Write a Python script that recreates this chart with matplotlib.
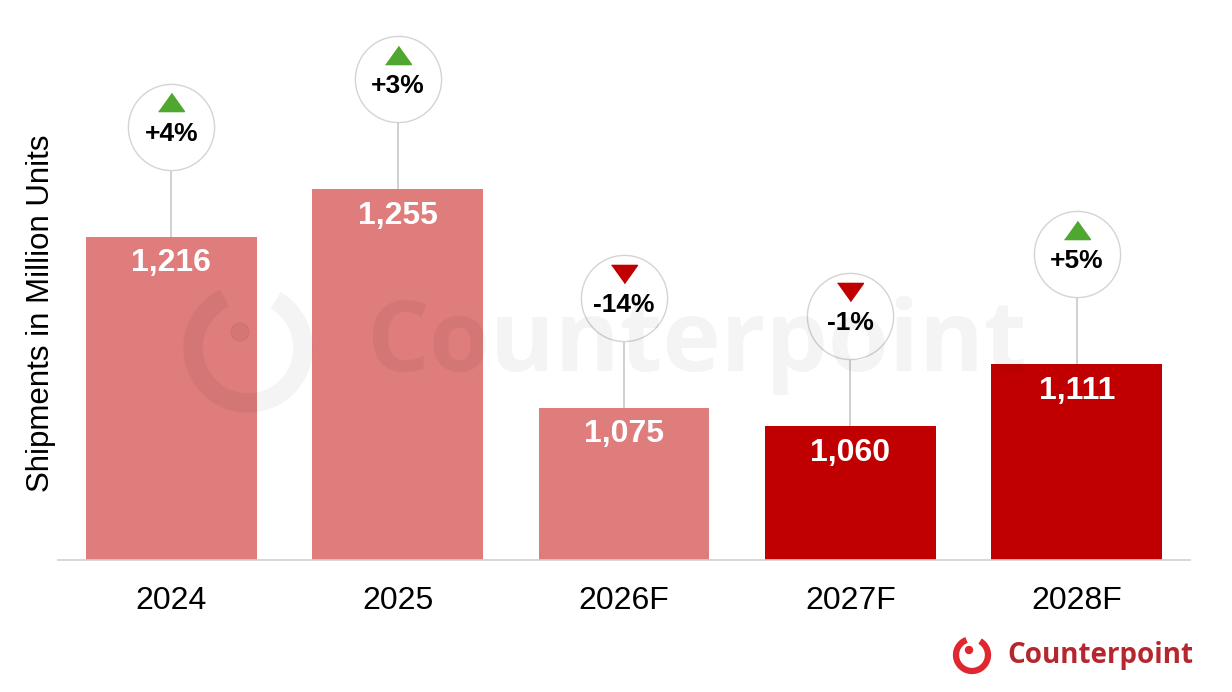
import numpy as np
import matplotlib
matplotlib.use('Agg')
import matplotlib.pyplot as plt
from matplotlib import transforms
from matplotlib.patches import Arc, Circle

plt.rcParams['font.family'] = ['Liberation Sans', 'DejaVu Sans']

# dati
years   = ['2024', '2025', '2026F', '2027F', '2028F']
values  = np.array([1216, 1255, 1075, 1060, 1111])
growth  = ['+4%', '+3%', '-14%', '-1%', '+5%']
is_up   = [True, True, False, False, True]
is_fcst = [False, False, False, True, True]   # barre rosso scuro

light_red = '#DF7C7C'
dark_red  = '#C00000'
green     = '#4EA72E'

W, H = 1232, 692
fig = plt.figure(figsize=(W/100, H/100), dpi=100)
fig.patch.set_facecolor('white')

# assi in pixel: x 58..1190, y 20..560
ax = fig.add_axes([58/W, 132/H, 1132/W, 540/H])
px_per_unit = 1.2154
ax.set_ylim(950, 950 + 540/px_per_unit)
ax.set_xlim(-0.5, 4.5)

x = np.arange(len(years))
colors = [dark_red if f else light_red for f in is_fcst]
ax.bar(x, values - 950, bottom=950, width=0.755, color=colors, zorder=2)

for s in ['top', 'right', 'left']:
    ax.spines[s].set_visible(False)
ax.spines['bottom'].set_color('#d0d0d0')
ax.spines['bottom'].set_linewidth(1.2)
ax.set_yticks([])
ax.set_xticks(x)
ax.set_xticklabels(years, fontsize=23)
ax.tick_params(axis='x', length=0, pad=19)

# etichette valori dentro le barre
for xi, v in zip(x, values):
    ax.annotate('{:,}'.format(v), (xi, v), xytext=(0, -19), textcoords='offset points',
                ha='center', va='center', fontsize=23, fontweight='bold',
                color='white', zorder=5)

# cerchi con la crescita
off = 90.5   # distanza centro cerchio - cima barra (unità dati)
cy = values + off
ax.vlines(x, values, cy, color='#c8c8c8', lw=1.2, zorder=3)
ax.scatter(x, cy, s=3850, facecolor='white', edgecolor='#d4d4d4', lw=1.0,
           zorder=4, clip_on=False)

tri_up = [(-1, -0.7), (1, -0.7), (0, 0.7)]
tri_dn = [(-1, 0.7), (1, 0.7), (0, -0.7)]
tri_tr = transforms.offset_copy(ax.transData, fig, x=0, y=17.5, units='points')
for xi, yi, g, up in zip(x, cy, growth, is_up):
    ax.plot(xi, yi, marker=tri_up if up else tri_dn, markersize=18.7,
            color=green if up else dark_red, lw=0, transform=tri_tr,
            zorder=5, clip_on=False)
    ax.annotate(g, (xi, yi), xytext=(0, -5), textcoords='offset points',
                ha='center', va='center', fontsize=19, fontweight='bold',
                color='black', zorder=5, annotation_clip=False)

fig.text(41/W, 1 - 313/H, 'Shipments in Million Units', rotation=90,
         ha='center', va='center', fontsize=22.5, color='black')

# filigrana
fig.text(697/W, 1 - 345/H, 'Counterpoint', ha='center', va='center',
         fontsize=71, fontweight='bold', family=['Open Sans', 'DejaVu Sans'],
         color='black', alpha=0.045, zorder=10)
wm = Arc((248/100, (H-348)/100), 1.1, 1.1, theta1=115, theta2=420, lw=14,
         color='black', alpha=0.045, transform=fig.dpi_scale_trans, zorder=10)
fig.patches.append(wm)
fig.patches.append(Circle((240/100, (H-332)/100), 0.09, color='black', alpha=0.045,
                          transform=fig.dpi_scale_trans, zorder=10))

# logo in basso a destra
logo = Arc((972/100, (H-655)/100), 0.32, 0.32, theta1=110, theta2=420, lw=4.5,
           color='#E0262E', transform=fig.dpi_scale_trans, zorder=10)
fig.patches.append(logo)
fig.patches.append(Circle((969/100, (H-650)/100), 0.035, color='#E0262E',
                          transform=fig.dpi_scale_trans, zorder=10))
fig.text(1007/W, 1 - 656/H, 'Counterpoint', ha='left', va='center',
         fontsize=20, fontweight='bold', family=['Open Sans', 'DejaVu Sans'],
         color='#B5262F')

fig.savefig('out.png', dpi=100)
